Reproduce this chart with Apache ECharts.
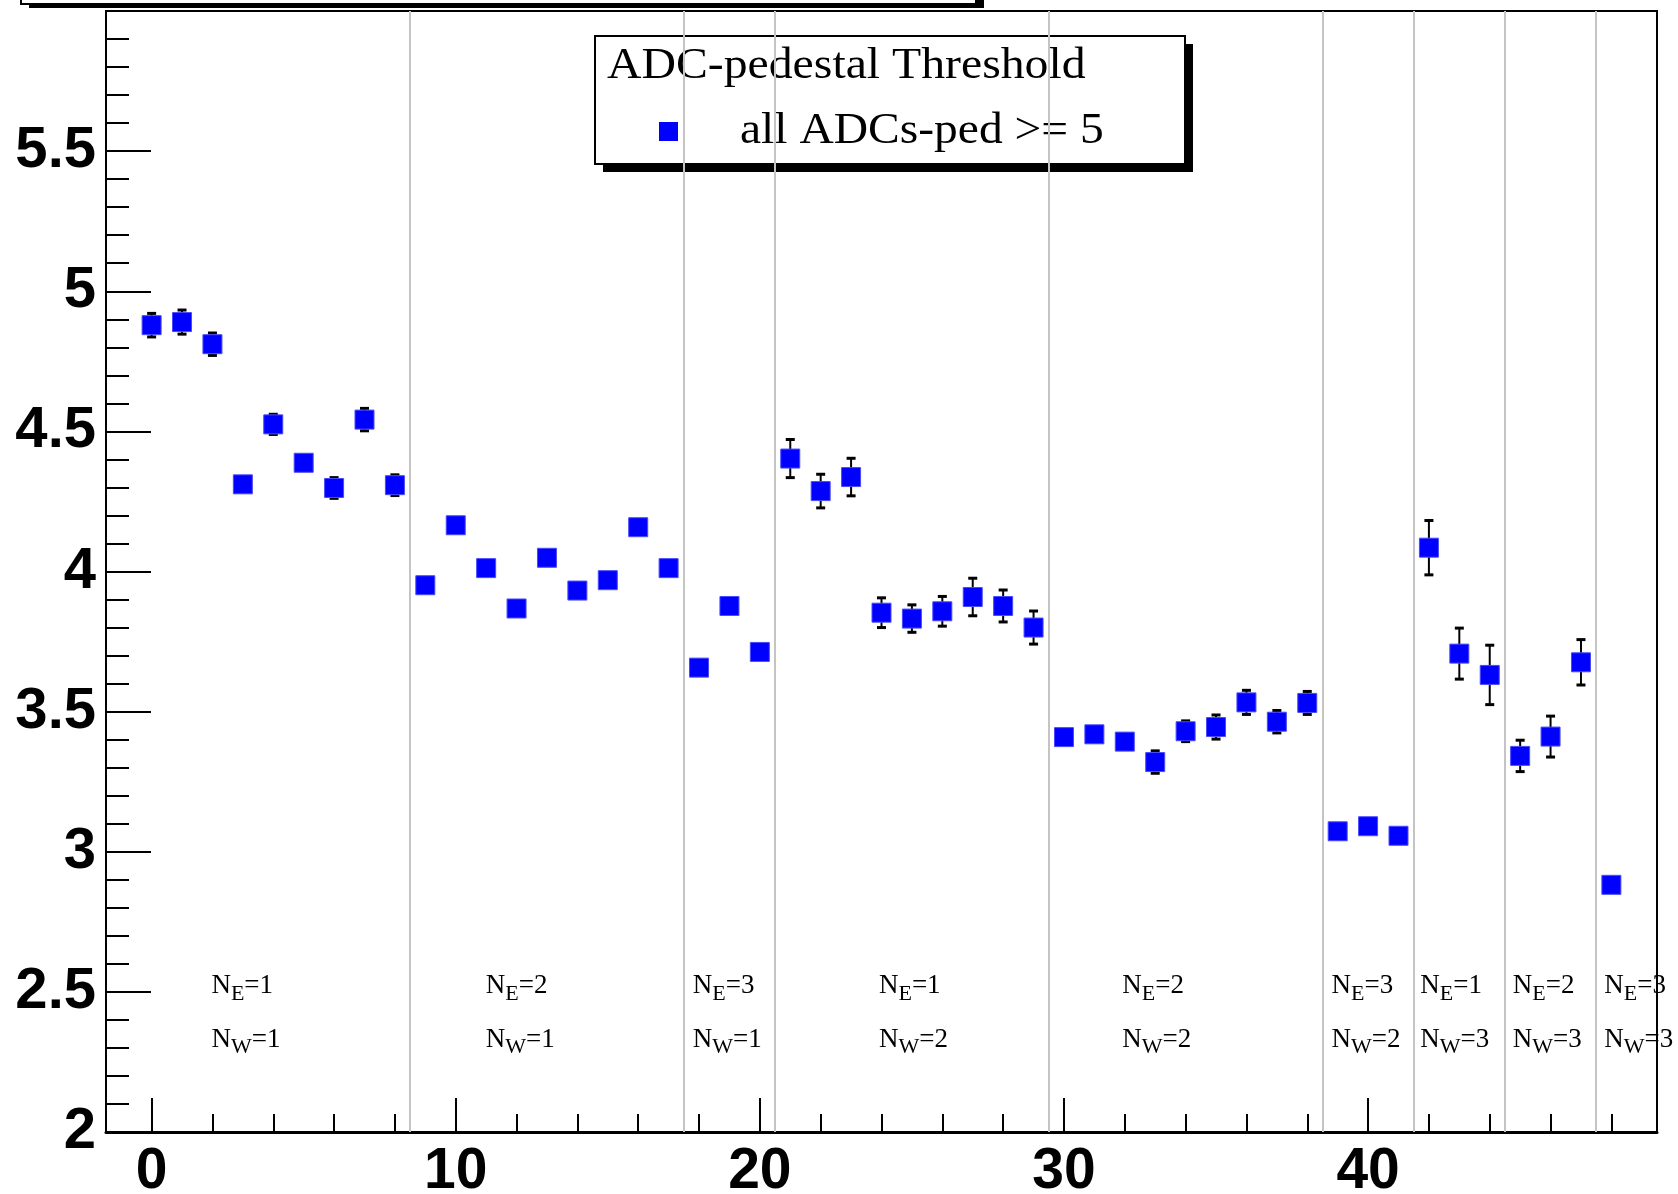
<!DOCTYPE html>
<html>
<head>
<meta charset="utf-8">
<style>
  html, body { margin: 0; padding: 0; background: #fff; }
  #chart { width: 1678px; height: 1194px; }
</style>
<script src="https://cdn.jsdelivr.net/npm/echarts@6/dist/echarts.min.js"></script>
</head>
<body>
<div id="chart"></div>
<script>
// channel index along x
const channels = [
  0, 1, 2, 3, 4, 5, 6, 7, 8, 9, 10, 11, 12, 13, 14, 15, 16, 17, 18, 19, 20,
  21, 22, 23, 24, 25, 26, 27, 28, 29, 30, 31, 32, 33, 34, 35, 36, 37, 38,
  39, 40, 41, 42, 43, 44, 45, 46, 47, 48
];
// mean value per channel (all ADCs-ped >= 5)
const values = [
  4.879, 4.890, 4.811, 4.311, 4.525, 4.388, 4.298, 4.542, 4.308,
  3.951, 4.165, 4.012, 3.868, 4.049, 3.932, 3.969, 4.158, 4.012,
  3.657, 3.877, 3.713,
  4.403, 4.287, 4.337, 3.853, 3.832, 3.858, 3.909, 3.877, 3.800,
  3.409, 3.419, 3.393, 3.320, 3.430, 3.445, 3.533, 3.464, 3.531,
  3.073, 3.091, 3.057,
  4.085, 3.707, 3.631,
  3.342, 3.411, 3.676,
  2.882
];
// symmetric errors
const errors = [
  0.042, 0.043, 0.040, 0.020, 0.036, 0.020, 0.037, 0.040, 0.037,
  0.020, 0.020, 0.020, 0.020, 0.020, 0.020, 0.020, 0.020, 0.020,
  0.020, 0.020, 0.020,
  0.068, 0.060, 0.067, 0.053, 0.049, 0.053, 0.067, 0.057, 0.059,
  0.020, 0.020, 0.020, 0.040, 0.037, 0.043, 0.043, 0.040, 0.041,
  0.020, 0.020, 0.020,
  0.097, 0.091, 0.106,
  0.056, 0.073, 0.081,
  0.020
];
// group boundaries and labels
const separators = [8.5, 17.5, 20.5, 29.5, 38.5, 41.5, 44.5, 47.5];
const groupLabelX = [1.95, 10.97, 17.78, 23.9, 31.9, 38.78, 41.7, 44.74, 47.75];
const groupNE = [1, 2, 3, 1, 2, 3, 1, 2, 3];
const groupNW = [1, 1, 1, 2, 2, 2, 3, 3, 3];
// ticks
const xMajorTicks = [0, 10, 20, 30, 40];
const xMinorTicks = [2, 4, 6, 8, 12, 14, 16, 18, 22, 24, 26, 28, 32, 34, 36, 38, 42, 44, 46, 48];

const NE_ROW = 2.52;
const NW_ROW = 2.33;
const SERIF = 'Liberation Serif';
const SANS = 'Liberation Sans';

const tickStyle = { color: '#000', width: 2 };

const groupLabel = (letter, nums) => ({
  show: true,
  position: 'right',
  distance: 0,
  opacity: 1,
  formatter: p => `{m|N}{s|${letter}}{m|=${nums[p.dataIndex]}}`,
  rich: {
    m: { fontFamily: SERIF, fontSize: 27, color: '#000', opacity: 1 },
    s: { fontFamily: SERIF, fontSize: 22, color: '#000', opacity: 1, padding: [16, 0, 0, 0] }
  }
});

const chart = echarts.init(document.getElementById('chart'));

chart.setOption({
  animation: false,
  backgroundColor: '#fff',
  grid: {
    left: 106, right: 21, top: 11, bottom: 62,
    outerBoundsMode: 'none', containLabel: false,
    show: true, borderColor: '#000', borderWidth: 2, backgroundColor: 'transparent'
  },
  xAxis: [{
    type: 'value', min: -1.5, max: 49.5,
    axisLine: { show: true, onZero: false, lineStyle: { color: '#000', width: 3 } },
    axisTick: { show: true, inside: true, length: 34, customValues: xMajorTicks, lineStyle: tickStyle },
    axisLabel: {
      customValues: xMajorTicks, fontSize: 57, fontWeight: 'bold', fontFamily: SANS,
      color: '#000', margin: 12
    },
    splitLine: { show: false }
  }, {
    type: 'value', min: -1.5, max: 49.5, position: 'bottom',
    axisLine: { show: false, onZero: false },
    axisTick: { show: true, inside: true, length: 18, customValues: xMinorTicks, lineStyle: tickStyle },
    axisLabel: { show: false },
    splitLine: { show: false }
  }],
  yAxis: {
    type: 'value', min: 2, max: 6, interval: 0.5,
    axisLine: { show: true, onZero: false, lineStyle: { color: '#000', width: 2 } },
    axisTick: { show: true, inside: true, length: 45, lineStyle: tickStyle },
    minorTick: { show: true, splitNumber: 5, length: 23, lineStyle: tickStyle },
    axisLabel: {
      fontSize: 58, fontWeight: 'bold', fontFamily: SANS, color: '#000', margin: 10,
      showMinLabel: true,
      formatter: v => (v === 6 ? '' : String(v))
    },
    splitLine: { show: false }
  },
  graphic: [
    // cut-off title box at the very top
    { type: 'rect', z: 0, shape: { x: 29, y: -60, width: 955, height: 68 }, style: { fill: '#000' } },
    { type: 'rect', z: 0, shape: { x: 21, y: -60, width: 955, height: 64 }, style: { fill: '#fff', stroke: '#000', lineWidth: 2 } },
    // legend
    { type: 'rect', z: 0, shape: { x: 603, y: 44, width: 590, height: 128 }, style: { fill: '#000' } },
    { type: 'rect', z: 0, shape: { x: 595, y: 36, width: 590, height: 128 }, style: { fill: '#fff', stroke: '#000', lineWidth: 2 } },
    {
      type: 'text', z: 0, x: 607, y: 66, scaleX: 1.085,
      style: { text: 'ADC-pedestal Threshold', font: `44px "${SERIF}"`, fill: '#000', verticalAlign: 'middle' }
    },
    { type: 'rect', z: 0, shape: { x: 659, y: 122, width: 19, height: 19 }, style: { fill: '#0000ff' } },
    {
      type: 'text', z: 0, x: 740, y: 131, scaleX: 1.08,
      style: { text: 'all ADCs-ped >= 5', font: `44px "${SERIF}"`, fill: '#000', verticalAlign: 'middle' }
    }
  ],
  series: [
    {
      name: 'separators', type: 'line', data: [], z: 5,
      markLine: {
        silent: true, symbol: 'none', animation: false,
        label: { show: false },
        lineStyle: { color: '#c4c4c4', width: 2, type: 'solid', opacity: 1 },
        data: separators.map(x => ({ xAxis: x }))
      }
    },
    {
      name: 'errors', type: 'custom', z: 6, silent: true,
      data: channels.map((c, i) => [c, values[i] - errors[i], values[i] + errors[i]]),
      renderItem: (params, api) => {
        const lo = api.coord([api.value(0), api.value(1)]);
        const hi = api.coord([api.value(0), api.value(2)]);
        const cap = 4.5;
        const st = { stroke: '#000', lineWidth: 2 };
        const capSt = { stroke: '#000', lineWidth: 3 };
        return {
          type: 'group',
          children: [
            { type: 'line', shape: { x1: lo[0], y1: lo[1], x2: hi[0], y2: hi[1] }, style: st },
            { type: 'line', shape: { x1: lo[0] - cap, y1: lo[1], x2: lo[0] + cap, y2: lo[1] }, style: capSt },
            { type: 'line', shape: { x1: hi[0] - cap, y1: hi[1], x2: hi[0] + cap, y2: hi[1] }, style: capSt }
          ]
        };
      }
    },
    {
      name: 'all ADCs-ped >= 5', type: 'scatter', z: 7,
      symbol: 'rect', symbolSize: 19,
      itemStyle: { color: '#0000ff', borderColor: '#4a4aff', borderWidth: 1, opacity: 1 },
      data: channels.map((c, i) => [c, values[i]])
    },
    {
      name: 'NE', type: 'scatter', z: 8, silent: true,
      symbolSize: 1, itemStyle: { color: 'rgba(0,0,0,0)', opacity: 1 },
      data: groupLabelX.map(x => [x, NE_ROW]),
      label: groupLabel('E', groupNE)
    },
    {
      name: 'NW', type: 'scatter', z: 8, silent: true,
      symbolSize: 1, itemStyle: { color: 'rgba(0,0,0,0)', opacity: 1 },
      data: groupLabelX.map(x => [x, NW_ROW]),
      label: groupLabel('W', groupNW)
    }
  ]
});
</script>
</body>
</html>
